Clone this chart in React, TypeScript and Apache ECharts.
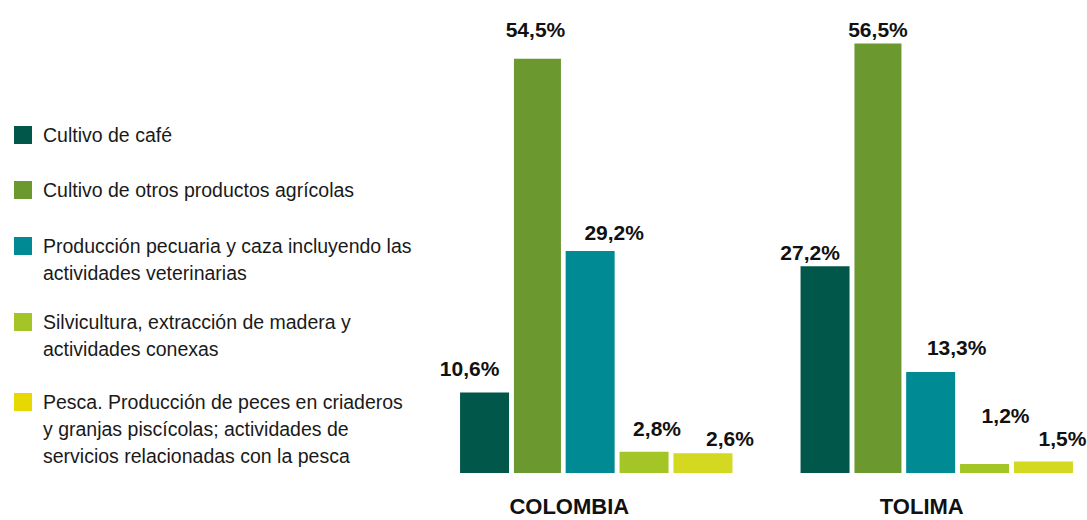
import React, { useEffect, useRef } from 'react';
import * as echarts from 'echarts';

// ---- data ----
const categories = ['COLOMBIA', 'TOLIMA'];
const seriesNames = [
  'Cultivo de café',
  'Cultivo de otros productos agrícolas',
  'Producción pecuaria y caza incluyendo las\nactividades veterinarias',
  'Silvicultura, extracción de madera y\nactividades conexas',
  'Pesca. Producción de peces en criaderos\ny granjas piscícolas; actividades de\nservicios relacionadas con la pesca',
];
const cafe = [10.6, 27.2];
const otrosAgricolas = [54.5, 56.5];
const pecuaria = [29.2, 13.3];
const silvicultura = [2.8, 1.2];
const pesca = [2.6, 1.5];

// ---- styles ----
const barColors = ['#02574B', '#6C9830', '#008B94', '#A4C526', '#D3D820'];
const legendColors = ['#02574B', '#6C9830', '#008B94', '#A4C526', '#E6D800'];
const barWidths = [49, 47, 49, 49, 59];
const labelOffsets = [
  [[-15, -13], [-15, -3]],
  [[-2, -19], [0, -4]],
  [[24, -8], [26, -14]],
  [[13, -13], [21, -38]],
  [[27, -4], [19, -13]],
];
const legendIconTops = [126, 181, 237, 313, 393];
const legendLineHeight = 27;
const axisLabelShift = [54, 30];

const fmt = (v: number) => v.toFixed(1).replace('.', ',') + '%';

export default function App() {
  const ref = useRef<HTMLDivElement>(null);
  useEffect(() => {
    if (!ref.current) return;
    const chart = echarts.init(ref.current, null, { renderer: 'svg' });
    const values = [cafe, otrosAgricolas, pecuaria, silvicultura, pesca];
    const legends = seriesNames.map((name, i) => {
      const extra = name.split('\n').length - 1;
      return {
        orient: 'vertical',
        left: 14,
        top: legendIconTops[i] - (legendLineHeight - 18) / 2 - extra * legendLineHeight,
        padding: 0,
        itemWidth: 18,
        itemHeight: 18,
        icon: 'rect',
        selectedMode: false,
        formatter: (n: string) => '\n'.repeat(extra) + n,
        data: [{ name, itemStyle: { color: legendColors[i] } }],
        textStyle: {
          fontFamily: '"Liberation Sans", Arial, sans-serif',
          fontSize: 19.5,
          lineHeight: legendLineHeight,
          color: '#1a1a1a',
          padding: [0, 0, 0, 6],
        },
      };
    });
    const series = values.map((vals, si) => ({
      type: 'bar',
      name: seriesNames[si],
      barWidth: barWidths[si],
      barGap: '10%',
      itemStyle: { color: barColors[si] },
      data: vals.map((v, ci) => ({
        value: v,
        label: { offset: labelOffsets[si][ci] },
      })),
      label: {
        show: true,
        position: 'top',
        distance: 0,
        formatter: (p: any) => fmt(p.value),
        fontFamily: '"Liberation Sans", Arial, sans-serif',
        fontWeight: 'bold',
        fontSize: 21,
        color: '#111111',
      },
    }));
    chart.setOption({
      animation: false,
      legend: legends,
      grid: { left: 426, width: 681, top: 17, height: 456, outerBoundsMode: 'none', containLabel: false },
      xAxis: {
        type: 'category',
        data: categories,
        axisLine: { show: false },
        axisTick: { show: false },
        axisLabel: {
          margin: 23,
          formatter: (v: string, i: number) => `{c${i}|${v}}`,
          rich: Object.fromEntries(
            categories.map((_, i) => [
              `c${i}`,
              {
                padding: [0, axisLabelShift[i], 0, 0],
                fontFamily: '"Liberation Sans", Arial, sans-serif',
                fontWeight: 'bold',
                fontSize: 22,
                lineHeight: 20,
                color: '#111111',
              },
            ])
          ),
        },
      },
      yAxis: { type: 'value', min: 0, max: 60, show: false, splitLine: { show: false } },
      series,
    });
    return () => chart.dispose();
  }, []);
  return (
    <div
      ref={ref}
      style={{ position: 'absolute', left: 0, top: 0, width: 1087, height: 520, background: '#ffffff' }}
    />
  );
}
